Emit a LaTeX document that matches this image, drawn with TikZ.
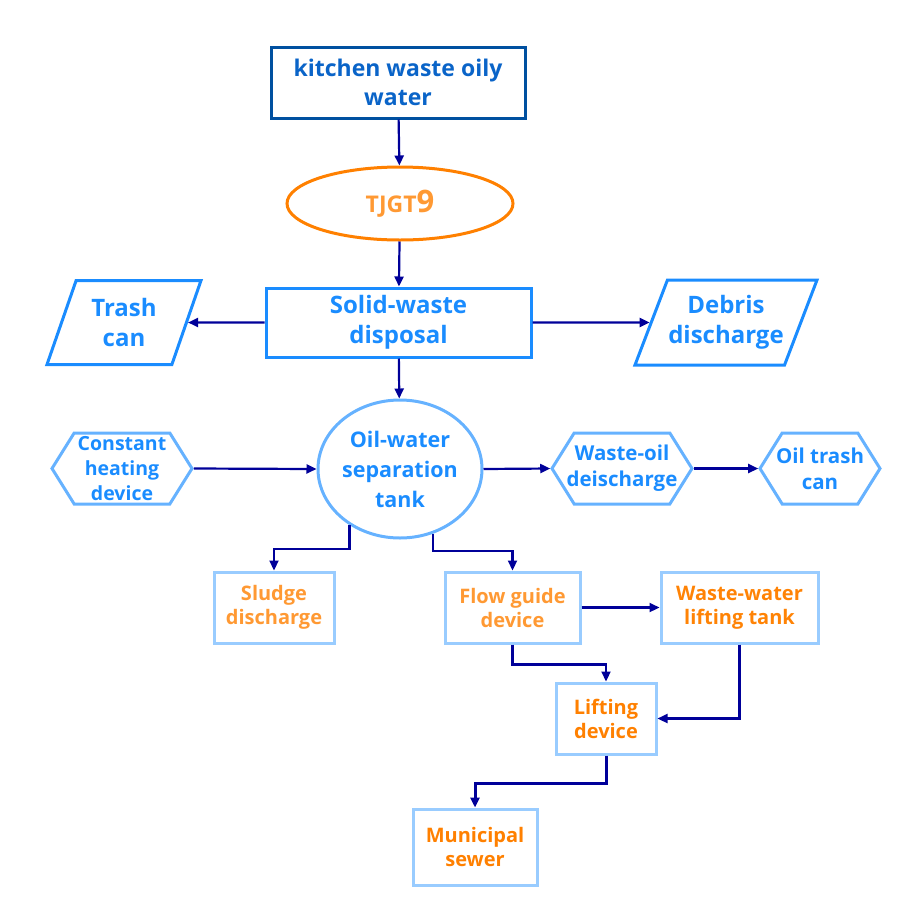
\documentclass[tikz,border=0pt]{standalone}
\usepackage{fontspec}
\setmainfont{Open Sans}
\usetikzlibrary{arrows.meta, shapes.geometric, shapes.symbols}

\definecolor{navy}{RGB}{0,0,153}
\definecolor{deepblue}{RGB}{0,80,160}
\definecolor{kitchenblue}{RGB}{10,100,200}
\definecolor{brightblue}{RGB}{26,140,255}
\definecolor{midblue}{RGB}{102,178,255}
\definecolor{paleblue}{RGB}{153,204,255}
\definecolor{darkorange}{RGB}{255,128,0}
\definecolor{lightorange}{RGB}{255,153,51}

\begin{document}
\begin{tikzpicture}[x=1pt, y=-1pt, line width=3pt,
        >={Triangle[length=10pt, width=9pt]},
        flow/.style={->, navy, line width=2.2pt},
        box/.style={draw, rectangle, align=center, inner sep=1pt, minimum height=71pt},
        hexa/.style={draw=midblue, signal, signal to=east and west, signal pointer angle=116,
            align=center, inner ysep=0pt, inner xsep=-8pt, minimum height=71pt, text=brightblue,
            font=\bfseries\fontsize{20.5}{26}\selectfont},
        slant/.style={draw=brightblue, trapezium, trapezium left angle=59, trapezium right angle=121,
            trapezium stretches body, align=center, inner sep=0pt, text=brightblue,
            font=\bfseries\fontsize{24}{30}\selectfont},
        lowbox/.style={box, draw=paleblue, font=\bfseries\fontsize{20}{24}\selectfont}]

        \useasboundingbox (0,0) rectangle (911,914);

        % ==========================================
        % 1. Top of the line
        % ==========================================
        \node[box, draw=deepblue, minimum width=254pt, text=kitchenblue,
            font=\bfseries\fontsize{23}{29}\selectfont] (kitchen) at (398,82.5) {kitchen waste oily\\water};
        \node[draw=darkorange, ellipse, minimum width=226pt, minimum height=73pt, text=lightorange,
            font=\bfseries\fontsize{23}{24}\selectfont] (tjgt) at (400,203.5) {TJGT{\fontsize{31}{31}\selectfont 9}};
        \node[box, draw=brightblue, minimum width=265pt, minimum height=69pt, text=brightblue,
            font=\bfseries\fontsize{24}{30}\selectfont] (solid) at (398.5,322.5) {Solid-waste\\disposal};

        % Trash can and debris (parallelograms)
        \node[slant, minimum width=154pt, minimum height=84pt] (trash) at (124,322.5) {Trash\\can};
        \node[slant, minimum width=182pt, minimum height=85pt] (debris) at (726,322.5) {Debris\\discharge};

        % ==========================================
        % 2. Separation tank row
        % ==========================================
        \node[draw=midblue, ellipse, minimum width=164pt, minimum height=138pt, inner sep=0pt,
            align=center, text=brightblue, font=\bfseries\fontsize{21.5}{30}\selectfont] (sep) at (400,469)
            {Oil-water\\separation\\tank};
        \node[hexa, minimum width=140pt, font=\bfseries\fontsize{19.5}{25}\selectfont] (heat) at (122,468.5) {Constant\\heating\\device};
        \node[hexa, minimum width=140pt] (woil) at (622,468.5) {Waste-oil\\deischarge};
        \node[hexa, minimum width=120pt] (otrash) at (820,468.5) {Oil trash\\can};

        % ==========================================
        % 3. Lower devices (orange text)
        % ==========================================
        \node[lowbox, minimum width=120pt, text=lightorange] (sludge) at (274,607.5) {Sludge\\discharge};
        \node[lowbox, minimum width=135pt, text=lightorange] (guide) at (512.5,607.5) {Flow guide\\device};
        \node[lowbox, minimum width=157pt, text=darkorange!90!lightorange] (wwt) at (739.5,607.5) {Waste-water\\lifting tank};
        \node[lowbox, minimum width=100pt, text=darkorange] (lift) at (606,718.5) {Lifting\\device};
        \node[lowbox, minimum width=124pt, minimum height=76pt, text=darkorange] (sewer) at (475,847) {Municipal\\sewer};

        % ==========================================
        % 4. Connectors
        % ==========================================
        \draw[flow] (kitchen) -- (tjgt);
        \draw[flow] (tjgt) -- (solid);
        \draw[flow] (solid.west) -- (trash.east);
        \draw[flow] (solid.east) -- (debris.west);
        \draw[flow] (solid) -- (sep);
        \draw[flow] (heat.east) -- (sep.west);
        \draw[flow] (sep.east) -- (woil.west);
        \draw[flow] (woil.east) -- (otrash.west);
        \draw[flow] (sep.228) -- ++(0,24) -| (sludge.north);
        \draw[flow] (sep.297) -- ++(0,17) -| (guide.north);
        \draw[flow] (guide.east) -- (wwt.west);
        \draw[flow] (guide.south) -- ++(0,20) -| (lift.north);
        \draw[flow] (wwt.south) |- (lift.east);
        \draw[flow, line width=3pt] (lift.south) -- ++(0,28) -| (sewer.north);

    \end{tikzpicture}
\end{document}
